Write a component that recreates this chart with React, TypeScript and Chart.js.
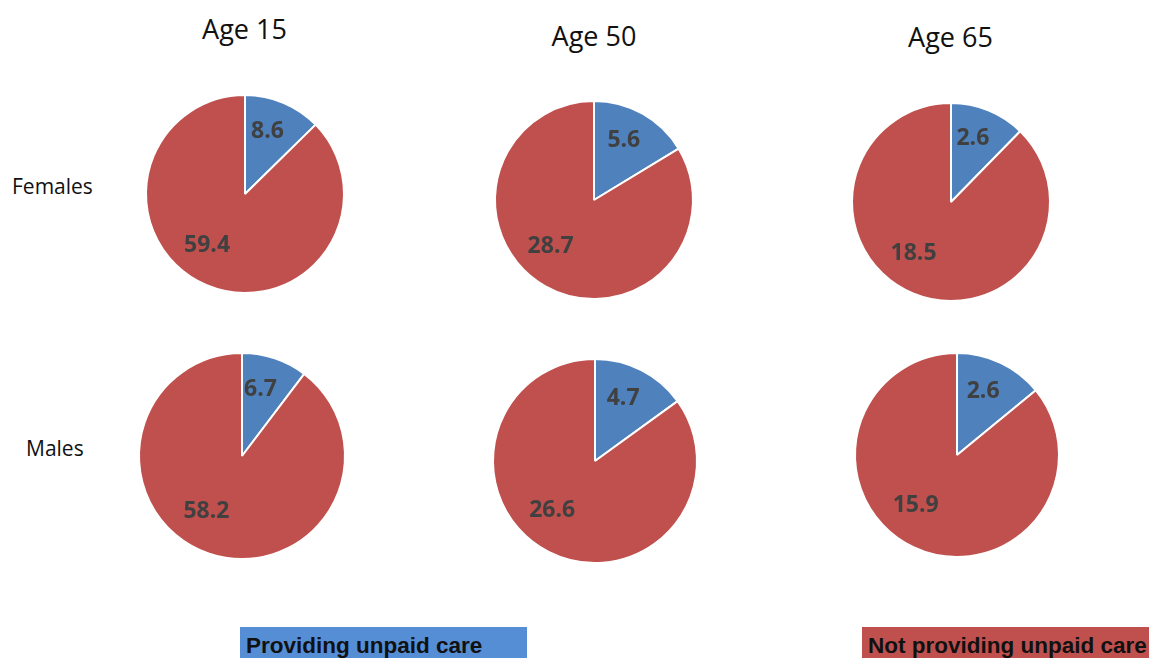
import React, { useEffect, useRef } from 'react';
import { Chart, registerables } from 'chart.js';

Chart.register(...registerables);

// Column and row headings
const ages = ['Age 15', 'Age 50', 'Age 65'];
const groups = ['Females', 'Males'];
const seriesNames = ['Providing unpaid care', 'Not providing unpaid care'];

// Values per age group
const femalesProviding = [8.6, 5.6, 2.6];
const femalesNotProviding = [59.4, 28.7, 18.5];
const malesProviding = [6.7, 4.7, 2.6];
const malesNotProviding = [58.2, 26.6, 15.9];

const BLUE = '#4F81BD';
const RED = '#C0504D';
const LEGEND_BLUE = '#558ED5';
const LABEL_COLOR = '#404040';

// Pie placement on the page: [row][col]
const pieLayout = [
  [
    { cx: 245, cy: 194, r: 98 },
    { cx: 594, cy: 200, r: 98 },
    { cx: 951, cy: 201.5, r: 98 },
  ],
  [
    { cx: 242, cy: 456, r: 102 },
    { cx: 595, cy: 460.5, r: 101 },
    { cx: 957, cy: 455, r: 101 },
  ],
];

const titleLayout = [
  { cx: 244.5, baseline: 39 },
  { cx: 594, baseline: 46 },
  { cx: 950.5, baseline: 47 },
];
const rowLabelLayout = [
  { x: 12, baseline: 195 },
  { x: 26, baseline: 457 },
];

const CANVAS = 240;
const DEG = Math.PI / 180;
// Value label placement per slice: angular shift from the slice middle and distance as a fraction of radius
const labelShift = [-3.5 * DEG, 14.7 * DEG];
const labelDist = [0.69, 0.63];
const LABEL_SIZE = 23;

const valueLabels = {
  id: 'valueLabels',
  afterDatasetsDraw(chart: any) {
    const ctx = chart.ctx;
    const meta = chart.getDatasetMeta(0);
    const data = chart.data.datasets[0].data as number[];
    ctx.save();
    ctx.font = `bold ${LABEL_SIZE}px "Open Sans"`;
    ctx.fillStyle = LABEL_COLOR;
    ctx.textAlign = 'center';
    ctx.textBaseline = 'alphabetic';
    meta.data.forEach((arc: any, i: number) => {
      const { x, y, startAngle, endAngle, outerRadius } = arc.getProps(
        ['x', 'y', 'startAngle', 'endAngle', 'outerRadius'],
        true
      );
      const a = (startAngle + endAngle) / 2 + labelShift[i];
      const d = outerRadius * labelDist[i];
      ctx.fillText(
        data[i].toFixed(1),
        x + Math.cos(a) * d,
        y + Math.sin(a) * d + LABEL_SIZE * 0.357
      );
    });
    ctx.restore();
  },
};

function Pie({ values, cx, cy, r }: { values: number[]; cx: number; cy: number; r: number }) {
  const ref = useRef<HTMLCanvasElement>(null);
  useEffect(() => {
    if (!ref.current) return;
    const chart = new Chart(ref.current, {
      type: 'pie',
      data: {
        labels: seriesNames,
        datasets: [
          {
            data: values,
            backgroundColor: [BLUE, RED],
            borderColor: '#ffffff',
            borderWidth: 2,
            radius: r + 1,
          } as any,
        ],
      },
      options: {
        responsive: false,
        animation: false,
        events: [],
        plugins: {
          legend: { display: false },
          tooltip: { enabled: false },
        },
      },
      plugins: [valueLabels],
    });
    return () => chart.destroy();
  }, [values, r]);
  return (
    <canvas
      ref={ref}
      width={CANVAS}
      height={CANVAS}
      style={{
        position: 'absolute',
        left: cx - CANVAS / 2,
        top: cy - CANVAS / 2,
        width: CANVAS,
        height: CANVAS,
      }}
    />
  );
}

const titleSize = 27;
const rowSize = 21;
const legendSize = 22.5;

export default function App() {
  const rows = [
    [femalesProviding, femalesNotProviding],
    [malesProviding, malesNotProviding],
  ];
  return (
    <div
      style={{
        position: 'absolute',
        left: 0,
        top: 0,
        width: 1149,
        height: 658,
        overflow: 'hidden',
        background: '#ffffff',
      }}
    >
      {ages.map((t, i) => (
        <div
          key={t}
          style={{
            position: 'absolute',
            left: titleLayout[i].cx - 100,
            width: 200,
            top: titleLayout[i].baseline - titleSize * 0.888,
            textAlign: 'center',
            font: `${titleSize}px "Open Sans"`,
            lineHeight: `${titleSize}px`,
            color: '#111111',
            whiteSpace: 'nowrap',
          }}
        >
          {t}
        </div>
      ))}
      {groups.map((g, i) => (
        <div
          key={g}
          style={{
            position: 'absolute',
            left: rowLabelLayout[i].x,
            top: rowLabelLayout[i].baseline - rowSize * 0.888,
            font: `${rowSize}px "Open Sans"`,
            lineHeight: `${rowSize}px`,
            color: '#111111',
            whiteSpace: 'nowrap',
          }}
        >
          {g}
        </div>
      ))}
      {rows.map(([prov, notProv], ri) =>
        ages.map((_, ci) => (
          <Pie
            key={`${ri}-${ci}`}
            values={[prov[ci], notProv[ci]]}
            cx={pieLayout[ri][ci].cx}
            cy={pieLayout[ri][ci].cy}
            r={pieLayout[ri][ci].r}
          />
        ))
      )}
      {seriesNames.map((name, i) => (
        <div
          key={name}
          style={{
            position: 'absolute',
            left: i === 0 ? 240 : 862,
            top: 627,
            width: i === 0 ? 287 : 295,
            height: 40,
            background: i === 0 ? LEGEND_BLUE : RED,
          }}
        >
          <div
            style={{
              position: 'absolute',
              left: 6,
              top: 654 - 627 - legendSize * 0.8465,
              font: `bold ${legendSize}px "Liberation Sans"`,
              lineHeight: `${legendSize}px`,
              color: '#111111',
              whiteSpace: 'nowrap',
            }}
          >
            {name}
          </div>
        </div>
      ))}
    </div>
  );
}
